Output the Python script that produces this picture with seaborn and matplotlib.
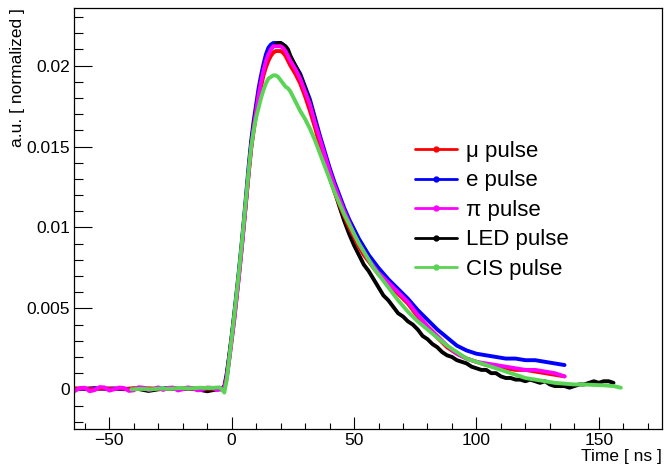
import numpy as np
import pandas as pd
import matplotlib
matplotlib.use("Agg")
import matplotlib.pyplot as plt
from matplotlib.lines import Line2D
from matplotlib.ticker import MultipleLocator, FuncFormatter
import seaborn as sns

# ---------------- data ----------------
t_main = [-64, -62, -60, -58, -56, -54, -52, -50, -48, -46, -44, -42, -40, -38, -36, -34,
          -32, -30, -28, -26, -24, -22, -20, -18, -16, -14, -12, -10, -8, -6, -4,
          -3, -2, -1, 0, 1, 2, 3, 4, 5, 6, 7, 8, 9, 10, 11, 12, 13, 14, 15, 16, 17, 18,
          19, 20, 21, 22, 23, 24, 26, 28, 30, 32, 34, 36, 38, 40, 42, 44, 46, 48, 50,
          52, 54, 56, 58, 60, 64, 68, 72, 76, 80, 84, 88, 92, 96, 100, 104, 108, 112,
          116, 120, 124, 128, 132, 136]

mu_pulse = [0.00003, 0.00006, 0.00005, 0.00002, 0.00001, 0.00005, 0.00006, 0.00003, 0.00002,
            0.00006, 0.00004, 0.00002, 0.00007, 0.00004, 0.00003, 0.00006, 0.00005, 0.00002,
            0.00002, 0.00005, 0.00006, 0.00003, 0.00004, 0.00006, 0.00003, 0.00005, 0.00007,
            0.00004, 0.00004, 0.00006, 0.00003,
            0.0001, 0.0008, 0.0019, 0.0031, 0.0043, 0.0057, 0.0071, 0.0086, 0.0102, 0.0118,
            0.0134, 0.0149, 0.0160, 0.0170, 0.0179, 0.0187, 0.0194, 0.0199, 0.0203, 0.0206,
            0.0208, 0.0209, 0.0209, 0.0209, 0.0208, 0.0206, 0.0203, 0.0200, 0.0195, 0.0189,
            0.0181, 0.0172, 0.0162, 0.0151, 0.0141, 0.0131, 0.0122, 0.0114, 0.0107, 0.0100,
            0.0094, 0.0088, 0.0083, 0.0079, 0.0075, 0.0071, 0.0065, 0.0059, 0.0053, 0.0045,
            0.0038, 0.0032, 0.0026, 0.0022, 0.0019, 0.0017, 0.0015, 0.0014, 0.0013, 0.0012,
            0.0012, 0.0011, 0.0010, 0.0009, 0.0008]

e_pulse = [0.00005, 0.00003, 0.00002, 0.00006, 0.00008, 0.00004, 0.00003, 0.00005, 0.00006,
           0.00002, 0.00001, 0.00004, 0.00004, 0.00006, 0.00007, 0.00003, 0.00002, 0.00005,
           0.00005, 0.00008, 0.00009, 0.00004, 0.00003, 0.00005, 0.00006, 0.00003, 0.00004,
           0.00006, 0.00008, 0.00004, 0.00005,
           0.0002, 0.0010, 0.0021, 0.0033, 0.0046, 0.0060, 0.0074, 0.0089, 0.0105, 0.0122,
           0.0139, 0.0154, 0.0166, 0.0176, 0.0186, 0.0194, 0.0201, 0.0207, 0.0211, 0.0213,
           0.0214, 0.0214, 0.0214, 0.0214, 0.0213, 0.0211, 0.0208, 0.0205, 0.0200, 0.0195,
           0.0187, 0.0179, 0.0168, 0.0157, 0.0147, 0.0137, 0.0128, 0.0120, 0.0112, 0.0105,
           0.0099, 0.0093, 0.0088, 0.0083, 0.0079, 0.0075, 0.0068, 0.0062, 0.0056, 0.0049,
           0.0043, 0.0037, 0.0032, 0.0027, 0.0024, 0.0022, 0.0021, 0.0020, 0.0019, 0.0019,
           0.0018, 0.0018, 0.0017, 0.0016, 0.0015]

pi_pulse = [-0.0001, 0.00008, 0.0001, -0.00012, -0.00005, 0.00014, 0.00012, -0.00008, 0.0,
            0.00011, 0.00008, -0.0001, -0.00006, 0.00013, 0.0001, -0.00005, 0.00002, 0.00012,
            -0.00004, 0.00009, 0.00011, -0.00007, 0.0, 0.00012, 0.00007, -0.00006, -0.00003,
            0.00011, 0.00009, -0.00004, 0.00002,
            0.0001, 0.0007, 0.0018, 0.0030, 0.0042, 0.0056, 0.0070, 0.0085, 0.0101, 0.0118,
            0.0135, 0.0150, 0.0162, 0.0172, 0.0182, 0.0190, 0.0197, 0.0203, 0.0207, 0.0210,
            0.0212, 0.0212, 0.0212, 0.0212, 0.0211, 0.0209, 0.0206, 0.0203, 0.0198, 0.0192,
            0.0184, 0.0176, 0.0165, 0.0155, 0.0145, 0.0135, 0.0126, 0.0118, 0.0110, 0.0103,
            0.0096, 0.0090, 0.0085, 0.0080, 0.0076, 0.0072, 0.0066, 0.0060, 0.0054, 0.0046,
            0.0039, 0.0033, 0.0027, 0.0022, 0.0019, 0.0017, 0.0016, 0.0015, 0.0014, 0.0013,
            0.0012, 0.0012, 0.0011, 0.0010, 0.0008]

t_led = [-38, -34, -30, -26, -22, -18, -14, -10, -6, -4, -3, -2, -1, 0, 1, 2, 3, 4, 5, 6, 7,
         8, 9, 10, 11, 12, 13, 14, 15, 16, 17, 18, 19, 20, 21, 22, 23, 24, 26, 28, 30, 32,
         34, 36, 38, 40, 42, 44, 46, 48, 50, 52, 54, 56, 58, 60, 62, 64, 66, 68, 70, 72, 74,
         76, 78, 80, 82, 84, 86, 88, 90, 92, 94, 96, 98, 100, 102, 104, 106, 108, 110, 112,
         114, 116, 118, 120, 122, 124, 126, 128, 130, 132, 134, 136, 138, 140, 142, 144,
         146, 148, 150, 152, 154, 156]

led_pulse = [0.00002, -0.0001, 0.0, 0.00005, 0.00002, 0.00006, 0.0, -0.00012, 0.0, 0.0,
             0.0001, 0.0008, 0.0020, 0.0032, 0.0045, 0.0058, 0.0072, 0.0087, 0.0103, 0.0119,
             0.0136, 0.0151, 0.0163, 0.0173, 0.0182, 0.0190, 0.0197, 0.0203, 0.0207, 0.0210,
             0.0212, 0.0213, 0.0214, 0.0214, 0.0213, 0.0212, 0.0210, 0.0206, 0.0200, 0.0194,
             0.0186, 0.0177, 0.0166, 0.0155, 0.0144, 0.0133, 0.0123, 0.0113, 0.0104, 0.0096,
             0.0089, 0.0083, 0.0077, 0.0073, 0.0068, 0.0063, 0.0058, 0.0055, 0.0051, 0.0047,
             0.0045, 0.0042, 0.0040, 0.0037, 0.0033, 0.0031, 0.0028, 0.0026, 0.0023, 0.0021,
             0.0020, 0.0018, 0.0017, 0.0016, 0.0014, 0.0013, 0.0012, 0.0012, 0.0010, 0.0010,
             0.0008, 0.0007, 0.0007, 0.0006, 0.0006, 0.0005, 0.0006, 0.0005, 0.0004, 0.0005,
             0.0003, 0.0002, 0.0002, 0.0002, 0.0001, 0.0002, 0.0003, 0.0003, 0.0004, 0.0005,
             0.0004, 0.0005, 0.0005, 0.0004]

t_cis = [-41, -37, -33, -29, -25, -21, -17, -13, -9, -5, -4, -3, -2, -1, 0, 1, 2, 3, 4, 5, 6,
         7, 8, 9, 10, 11, 12, 13, 14, 15, 16, 17, 18, 19, 20, 21, 22, 23, 24, 26, 28, 30, 32,
         34, 36, 38, 40, 42, 44, 46, 48, 50, 52, 54, 56, 58, 60, 64, 68, 72, 76, 80, 84, 88,
         92, 96, 100, 104, 108, 112, 116, 120, 124, 128, 132, 136, 140, 144, 148, 152, 156,
         159]

cis_pulse = [0.0, 0.00003, 0.0, 0.00005, 0.00003, 0.00008, 0.00005, 0.0001, 0.00008, 0.00012,
             0.0, -0.0002, 0.0006, 0.0019, 0.0032, 0.0045, 0.0059, 0.0073, 0.0088, 0.0104,
             0.0120, 0.0136, 0.0150, 0.0160, 0.0168, 0.0174, 0.0180, 0.0185, 0.0189, 0.0192,
             0.0193, 0.0194, 0.0194, 0.0193, 0.0191, 0.0189, 0.0187, 0.0186, 0.0184, 0.0178,
             0.0172, 0.0167, 0.0161, 0.0154, 0.0146, 0.0138, 0.0130, 0.0122, 0.0115, 0.0108,
             0.0102, 0.0096, 0.0090, 0.0085, 0.0080, 0.0075, 0.0071, 0.0063, 0.0055, 0.0048,
             0.0042, 0.0037, 0.0032, 0.0027, 0.0023, 0.0019, 0.0017, 0.0015, 0.0013, 0.0011,
             0.0009, 0.0007, 0.0006, 0.0005, 0.0004, 0.00035, 0.0003, 0.0003, 0.00027,
             0.00025, 0.0002, 0.0001]

labels = ["\u03bc pulse", "e pulse", "\u03c0 pulse", "LED pulse", "CIS pulse"]
colors = ["#ff0000", "#0000ff", "#ff00ff", "#000000", "#59d454"]
draw_order = ["e pulse", "LED pulse", "\u03bc pulse", "\u03c0 pulse", "CIS pulse"]

series = {
    "\u03bc pulse": (t_main, mu_pulse),
    "e pulse": (t_main, e_pulse),
    "\u03c0 pulse": (t_main, pi_pulse),
    "LED pulse": (t_led, led_pulse),
    "CIS pulse": (t_cis, cis_pulse),
}
frames = []
for name in draw_order:
    t, v = series[name]
    frames.append(pd.DataFrame({"time": t, "value": v, "pulse": name}))
df = pd.concat(frames, ignore_index=True)
palette = dict(zip(labels, colors))

# ---------------- plot ----------------
sns.set_theme(style="white")
plt.rcParams["font.family"] = ["Liberation Sans", "DejaVu Sans"]
plt.rcParams["text.color"] = "black"
plt.rcParams["axes.labelcolor"] = "black"
plt.rcParams["xtick.color"] = "black"
plt.rcParams["ytick.color"] = "black"

fig = plt.figure(figsize=(6.65, 4.65), dpi=100)
ax = fig.add_axes([74.3 / 665, 1 - 429.3 / 465, (661.7 - 74.3) / 665, (429.3 - 7.7) / 465])

sns.lineplot(data=df, x="time", y="value", hue="pulse", hue_order=draw_order,
             palette=palette, estimator=None, sort=False, linewidth=2.8,
             legend=False, ax=ax)

ax.set_xlim(-64.3, 175.7)
ax.set_ylim(-0.00247, 0.02358)

ax.xaxis.set_major_locator(MultipleLocator(50))
ax.xaxis.set_minor_locator(MultipleLocator(10))
ax.yaxis.set_major_locator(MultipleLocator(0.005))
ax.yaxis.set_minor_locator(MultipleLocator(0.001))
ax.yaxis.set_major_formatter(FuncFormatter(lambda v, _: "0" if abs(v) < 1e-12 else f"{v:g}"))

ax.tick_params(axis="x", which="major", direction="in", length=8.9, width=0.8,
               labelsize=12.5, pad=2.5, colors="black", bottom=True, top=False)
ax.tick_params(axis="x", which="minor", direction="in", length=4.1, width=0.8,
               bottom=True, top=False, colors="black")
ax.tick_params(axis="y", which="major", direction="in", length=12.7, width=0.8,
               labelsize=12.5, pad=3.0, left=True, right=False, colors="black")
ax.tick_params(axis="y", which="minor", direction="in", length=6.5, width=0.8,
               left=True, right=False, colors="black")

for sp in ax.spines.values():
    sp.set_color("black")
    sp.set_linewidth(0.9)

ax.set_xlabel("Time [ ns ]", fontsize=12.5, loc="right", color="black")
ax.set_ylabel("a.u. [ normalized ]", fontsize=12.5, loc="top", color="black")
ax.xaxis.set_label_coords(1.0, -(448.5 - 429.3) / 421.6)
ax.yaxis.set_label_coords(-(74.3 - 25.5) / 587.4, 1.0)

handles = [Line2D([], [], color=palette[n], lw=2.0, marker="o", ms=3.5) for n in labels]
fig.legend(handles, labels, loc="upper left", bbox_to_anchor=(415 / 665, 1 - 141.0 / 465),
           bbox_transform=fig.transFigure, frameon=False, fontsize=16,
           handlelength=1.88, handletextpad=0.42, labelspacing=0.38, borderpad=0,
           borderaxespad=0, numpoints=1, labelcolor="black")

fig.savefig("out.png", dpi=100)
